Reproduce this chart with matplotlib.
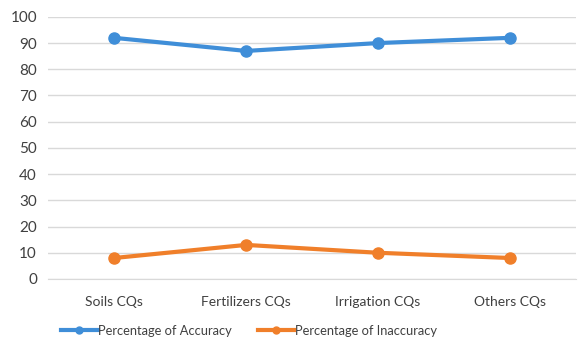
import matplotlib.pyplot as plt
from matplotlib.lines import Line2D

categories = ['Soils CQs', 'Fertilizers CQs', 'Irrigation CQs', 'Others CQs']
accuracy = [92, 87, 90, 92]
inaccuracy = [8, 13, 10, 8]
yticks = [0, 10, 20, 30, 40, 50, 60, 70, 80, 90, 100]

blue = '#3F8ED8'
orange = '#F07F2A'

plt.rcParams['font.family'] = ['Lato', 'DejaVu Sans']

fig = plt.figure(figsize=(5.79, 3.44), dpi=100)
ax = fig.add_axes([0.083, 0.189, 0.912, 0.762])

x = range(len(categories))
ax.plot(x, accuracy, color=blue, lw=3, marker='o', ms=8, label='Percentage of Accuracy', zorder=3)
ax.plot(x, inaccuracy, color=orange, lw=3, marker='o', ms=8, label='Percentage of Inaccuracy', zorder=3)

ax.set_xlim(-0.5, len(categories) - 0.5)
ax.set_ylim(0, 100)
ax.set_yticks(yticks)
ax.set_xticks(list(x))
ax.set_xticklabels(categories)
ax.grid(axis='y', color='#D9D9D9', lw=1)
ax.set_axisbelow(True)
for s in ['top', 'right', 'left']:
    ax.spines[s].set_visible(False)
ax.spines['bottom'].set_color('#D9D9D9')
ax.tick_params(axis='y', length=0, labelsize=11, colors='#404040', pad=8)
ax.tick_params(axis='x', length=0, labelsize=10, colors='#404040', pad=12)

handles = [Line2D([0], [0], color=blue, lw=3, marker='o', ms=5),
           Line2D([0], [0], color=orange, lw=3, marker='o', ms=5)]
fig.legend(handles, ['Percentage of Accuracy', 'Percentage of Inaccuracy'],
           loc='center', bbox_to_anchor=(0.43, 0.038), ncol=2, frameon=False,
           fontsize=9.3, handlelength=2.8, handletextpad=0.05, columnspacing=2.0,
           labelcolor='#404040')

fig.savefig('out.png', dpi=100)
